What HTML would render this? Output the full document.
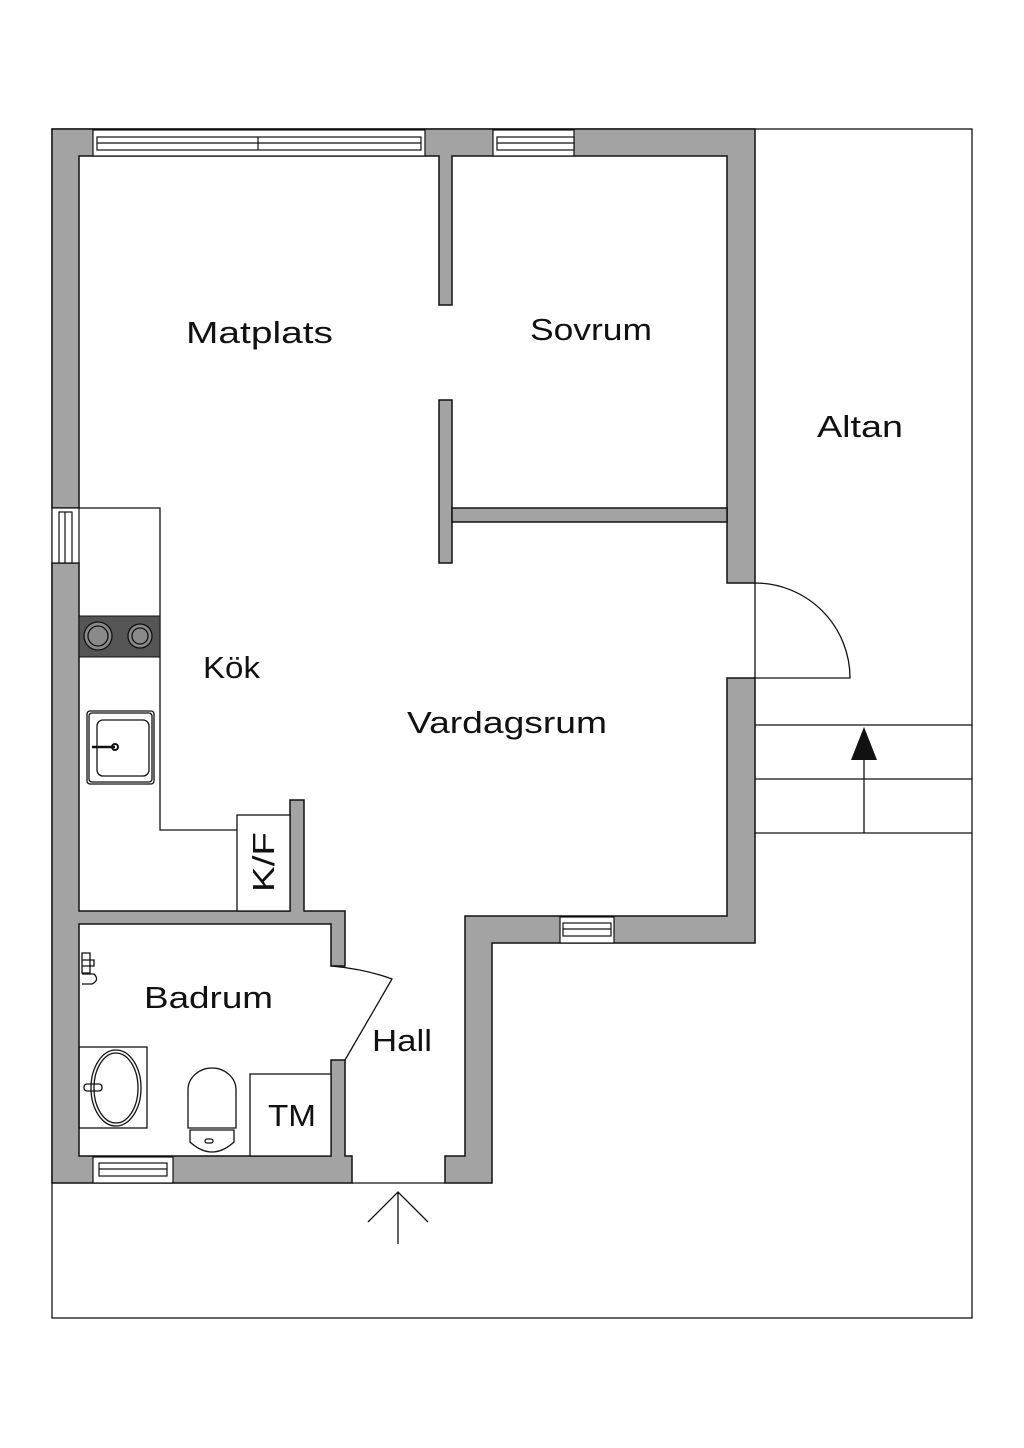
<!DOCTYPE html>
<html><head><meta charset="utf-8"><style>body{margin:0;background:#fff}svg{display:block}text{font-family:"Liberation Sans",sans-serif;fill:#111}</style></head><body>
<svg width="1024" height="1448" viewBox="0 0 1024 1448" xmlns="http://www.w3.org/2000/svg">
<rect x="0" y="0" width="1024" height="1448" fill="#fff"/>
<rect x="52" y="129" width="920" height="1189" fill="none" stroke="#111" stroke-width="1.3"/>
<g fill="#a3a3a3" stroke="#111" stroke-width="1.5">
<path d="M52 129 H755 V583 H727 V156 H452 V305 H439 V156 H79 V508 H52 Z"/>
<rect x="439" y="400" width="13" height="163"/>
<rect x="452" y="508" width="275" height="14"/>
<path d="M727 678 H755 V943 H492 V1183 H445 V1156 H465 V916 H727 Z"/>
<path d="M52 563 H79 V911 H290 V800 H304 V911 H345 V966 H331 V924 H79 V1156 H331 V1060 H345 V1156 H352 V1183 H52 Z"/>
</g>
<g fill="#fff" stroke="#111" stroke-width="1.2">
<rect x="93" y="130" width="332" height="26"/>
<rect x="97" y="137" width="324" height="13"/>
<line x1="258" y1="137" x2="258" y2="150"/>
<line x1="97" y1="143" x2="421" y2="143"/>
<rect x="493" y="130" width="81" height="26"/>
<rect x="497" y="137" width="77" height="13"/><line x1="497" y1="143" x2="574" y2="143"/>
<rect x="52" y="508" width="27" height="55"/>
<rect x="59" y="512" width="13" height="51"/><line x1="65" y1="512" x2="65" y2="563"/>
<rect x="560" y="917" width="54" height="26"/>
<rect x="563" y="923" width="48" height="13"/><line x1="563" y1="929" x2="611" y2="929"/>
<rect x="93" y="1157" width="80" height="26"/>
<rect x="99" y="1163" width="68" height="13"/><line x1="99" y1="1169" x2="167" y2="1169"/>
</g>
<g fill="none" stroke="#111" stroke-width="1.3">
<path d="M79 508 H160 V830 H237"/>
<rect x="237" y="815" width="53" height="96" fill="#fff"/>
<rect x="87" y="711" width="67" height="73" rx="3"/>
<rect x="89" y="713" width="63" height="69" rx="3"/>
<rect x="97" y="720" width="52" height="56" rx="6"/>
<line x1="92" y1="747" x2="115" y2="747" stroke-width="2.5"/>
<circle cx="115" cy="747" r="3" stroke-width="2"/>
<rect x="79" y="1047" width="68" height="81"/>
<ellipse cx="116" cy="1088" rx="25" ry="38"/>
<ellipse cx="116" cy="1088" rx="22" ry="35"/>
<rect x="84" y="1084" width="18" height="7" rx="3"/>
<path d="M188 1128 V1090 A24 22 0 0 1 236 1090 V1128 Z"/>
<path d="M190 1130 H234 V1142 Q212 1162 190 1142 Z"/>
<rect x="205" y="1139" width="8" height="4" rx="2"/>
<rect x="250" y="1074" width="81" height="82" fill="#fff"/>
<path d="M82 953 h8 v20 h-8 z M82 960 h12 v6 h-12 z M82 974 h12 q6 6 -2 10 h-10"/>
<path d="M331 966 Q365 969 392 979 L345 1060"/>
<path d="M755 583 V678 H850 A95 95 0 0 0 755 583"/>
<line x1="755" y1="725" x2="972" y2="725"/>
<line x1="755" y1="779" x2="972" y2="779"/>
<line x1="755" y1="833" x2="972" y2="833"/>
<line x1="864" y1="760" x2="864" y2="833"/>
<line x1="352" y1="1183" x2="445" y2="1183"/>
<line x1="398" y1="1192" x2="398" y2="1244"/>
<path d="M368 1222 L398 1192 L428 1222"/>
</g>
<polygon points="864,727 851,760 877,760" fill="#111"/>
<rect x="79" y="616" width="81" height="41" fill="#555" stroke="#111"/>
<g stroke="#111" stroke-width="1.3" fill="#8a8a8a">
<circle cx="98" cy="636" r="14"/><circle cx="98" cy="636" r="10"/>
<circle cx="140" cy="636" r="12"/><circle cx="140" cy="636" r="8"/>
</g>
<g font-size="31" lengthAdjust="spacingAndGlyphs">
<text x="186" y="343" textLength="147" lengthAdjust="spacingAndGlyphs">Matplats</text>
<text x="530" y="340" textLength="122" lengthAdjust="spacingAndGlyphs">Sovrum</text>
<text x="817" y="437" textLength="86" lengthAdjust="spacingAndGlyphs">Altan</text>
<text x="203" y="678" textLength="57" lengthAdjust="spacingAndGlyphs">Kök</text>
<text x="407" y="733" textLength="200" lengthAdjust="spacingAndGlyphs">Vardagsrum</text>
<text x="144" y="1008" textLength="129" lengthAdjust="spacingAndGlyphs">Badrum</text>
<text x="372" y="1051" textLength="60" lengthAdjust="spacingAndGlyphs">Hall</text>
<text x="268" y="1126" textLength="48" lengthAdjust="spacingAndGlyphs">TM</text>
<text x="-30" y="0" textLength="60" lengthAdjust="spacingAndGlyphs" transform="translate(274 862) rotate(-90)">K/F</text>
</g>
</svg>
</body></html>
